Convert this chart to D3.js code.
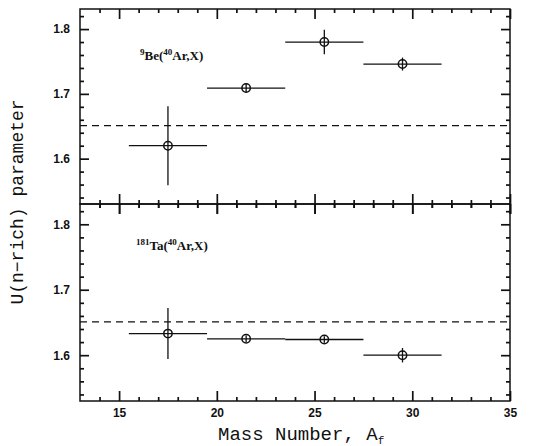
<!DOCTYPE html>
<html>
<head>
<meta charset="utf-8">
<script src="https://d3js.org/d3.v7.min.js"></script>
<style>
  body { margin: 0; background: #fff; }
  .axis-title { font-family: "Liberation Mono", "DejaVu Sans Mono", monospace; fill: #111; }
  .panel-label { font-family: "Liberation Serif", "Times New Roman", serif; font-weight: bold; font-size: 13px; fill: #111; }
  .ax path { display: none; }
  .ax line { stroke: #111; stroke-width: 1.7; }
  .ax text { font-family: "Liberation Sans", Arial, sans-serif; font-weight: bold; font-size: 12px; fill: #111; }
</style>
</head>
<body>
<svg id="main" width="545" height="446"></svg>
<script>
// data
var massCenters = [17.5, 21.5, 25.5, 29.5];
var massLow = [15.5, 19.5, 23.5, 27.5];
var massHigh = [19.5, 23.5, 27.5, 31.5];

var beValues = [1.620, 1.709, 1.780, 1.746];
var beErrors = [0.061, 0.007, 0.019, 0.010];

var taValues = [1.633, 1.625, 1.624, 1.600];
var taErrors = [0.039, 0.005, 0.005, 0.011];

var refLevel = 1.651;
var xTicks = [15, 20, 25, 30, 35];
var xMinor = [14, 16, 17, 18, 19, 21, 22, 23, 24, 26, 27, 28, 29, 31, 32, 33, 34];
var yTicks = [1.6, 1.7, 1.8];
var yMinor = [1.54, 1.56, 1.58, 1.62, 1.64, 1.66, 1.68, 1.72, 1.74, 1.76, 1.78, 1.82];

var svg = d3.select('#main');
var left = 80, right = 510;
var panels = [
  {top: 9, bottom: 204, values: beValues, errors: beErrors, sup1: '9', name: 'Be', lx: 140, ly: 60, bottomLabels: false},
  {top: 204, bottom: 401, values: taValues, errors: taErrors, sup1: '181', name: 'Ta', lx: 136, ly: 250, bottomLabels: true}
];

var x = d3.scaleLinear().domain([13, 35]).range([left, right]);

function addAxis(axis, tx, ty) {
  svg.append('g').attr('class', 'ax')
    .attr('transform', 'translate(' + tx + ',' + ty + ')')
    .call(axis);
}

panels.forEach(function(p) {
  var y = d3.scaleLinear().domain([1.53, 1.831]).range([p.bottom, p.top]);

  // frame
  svg.append('rect')
    .attr('x', left).attr('y', p.top)
    .attr('width', right - left).attr('height', p.bottom - p.top)
    .attr('fill', 'none').attr('stroke', '#111').attr('stroke-width', 1.5);

  // x ticks pointing inward on the bottom and top edges
  addAxis(d3.axisBottom(x).tickValues(xTicks).tickSize(-10).tickPadding(7)
    .tickFormat(p.bottomLabels ? d3.format('d') : ''), 0, p.bottom);
  addAxis(d3.axisBottom(x).tickValues(xMinor).tickSize(-4).tickFormat(''), 0, p.bottom);
  addAxis(d3.axisTop(x).tickValues(xTicks).tickSize(-10).tickFormat(''), 0, p.top);
  addAxis(d3.axisTop(x).tickValues(xMinor).tickSize(-4).tickFormat(''), 0, p.top);

  // y ticks on both sides
  addAxis(d3.axisLeft(y).tickValues(yTicks).tickSize(-9).tickPadding(10)
    .tickFormat(d3.format('.1f')), left, 0);
  addAxis(d3.axisLeft(y).tickValues(yMinor).tickSize(-4).tickFormat(''), left, 0);
  addAxis(d3.axisRight(y).tickValues(yTicks).tickSize(-9).tickFormat(''), right, 0);
  addAxis(d3.axisRight(y).tickValues(yMinor).tickSize(-4).tickFormat(''), right, 0);

  var g = svg.append('g');

  // dashed reference line
  g.append('line')
    .attr('x1', left).attr('x2', right)
    .attr('y1', y(refLevel)).attr('y2', y(refLevel))
    .attr('stroke', '#111').attr('stroke-width', 1.3)
    .attr('stroke-dasharray', '7,5');

  // points with error bars
  var pts = massCenters.map(function(m, i) {
    return {m: m, lo: massLow[i], hi: massHigh[i], v: p.values[i], e: p.errors[i]};
  });
  var pg = g.selectAll('.pt').data(pts).enter().append('g');
  pg.append('line')
    .attr('x1', function(d) { return x(d.lo); }).attr('x2', function(d) { return x(d.hi); })
    .attr('y1', function(d) { return y(d.v); }).attr('y2', function(d) { return y(d.v); })
    .attr('stroke', '#111').attr('stroke-width', 1.3);
  pg.append('line')
    .attr('x1', function(d) { return x(d.m); }).attr('x2', function(d) { return x(d.m); })
    .attr('y1', function(d) { return y(d.v - d.e); }).attr('y2', function(d) { return y(d.v + d.e); })
    .attr('stroke', '#111').attr('stroke-width', 1.3);
  pg.append('circle')
    .attr('cx', function(d) { return x(d.m); }).attr('cy', function(d) { return y(d.v); })
    .attr('r', 4.2)
    .attr('fill', 'none').attr('stroke', '#111').attr('stroke-width', 1.5);

  // panel label
  var t = g.append('text').attr('class', 'panel-label').attr('x', p.lx).attr('y', p.ly);
  t.append('tspan').attr('font-size', '9px').attr('dy', -5).text(p.sup1);
  t.append('tspan').attr('dy', 5).text(p.name + '(');
  t.append('tspan').attr('font-size', '9px').attr('dy', -5).text('40');
  t.append('tspan').attr('dy', 5).text('Ar,X)');
});

// shared middle axis: ticks poke out on both sides of the join
addAxis(d3.axisBottom(x).tickValues(xMinor).tickSize(4).tickFormat(''), 0, 204);
addAxis(d3.axisBottom(x).tickValues(xTicks).tickSize(10).tickFormat(''), 0, 204);

// axis titles
var xTitle = svg.append('text').attr('class', 'axis-title')
  .attr('font-size', '19px')
  .attr('x', 218).attr('y', 440);
xTitle.append('tspan').text('Mass Number, A');
xTitle.append('tspan').attr('font-size', '11px').attr('dy', 4).text('f');

svg.append('text').attr('class', 'axis-title')
  .attr('font-size', '18px')
  .attr('transform', 'translate(23,202) rotate(-90)')
  .attr('text-anchor', 'middle')
  .text('U(n\u2212rich) parameter');
</script>
</body>
</html>
